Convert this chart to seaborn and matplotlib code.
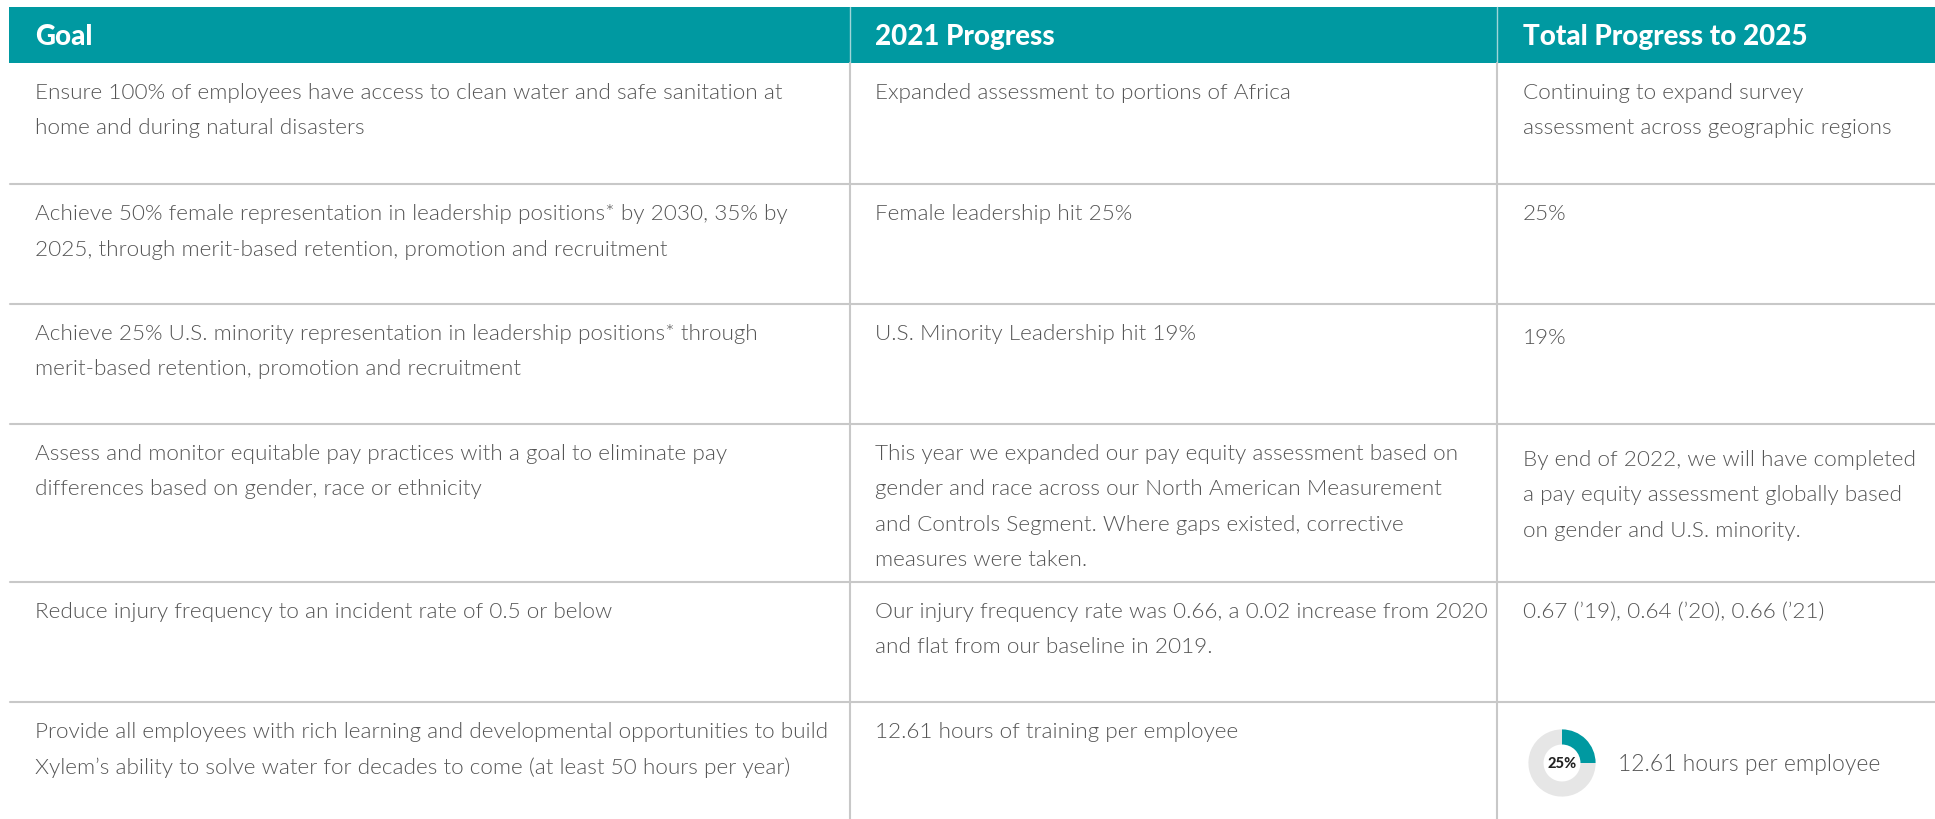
import matplotlib
matplotlib.use("Agg")
import matplotlib.pyplot as plt
import seaborn as sns

# ---------------- data ----------------
headers = ["Goal", "2021 Progress", "Total Progress to 2025"]
goals = [
    "Ensure 100% of employees have access to clean water and safe sanitation at\nhome and during natural disasters",
    "Achieve 50% female representation in leadership positions* by 2030, 35% by\n2025, through merit-based retention, promotion and recruitment",
    "Achieve 25% U.S. minority representation in leadership positions* through\nmerit-based retention, promotion and recruitment",
    "Assess and monitor equitable pay practices with a goal to eliminate pay\ndifferences based on gender, race or ethnicity",
    "Reduce injury frequency to an incident rate of 0.5 or below",
    "Provide all employees with rich learning and developmental opportunities to build\nXylem\u2019s ability to solve water for decades to come (at least 50 hours per year)",
]
progress_2021 = [
    "Expanded assessment to portions of Africa",
    "Female leadership hit 25%",
    "U.S. Minority Leadership hit 19%",
    "This year we expanded our pay equity assessment based on\ngender and race across our North American Measurement\nand Controls Segment. Where gaps existed, corrective\nmeasures were taken.",
    "Our injury frequency rate was 0.66, a 0.02 increase from 2020\nand flat from our baseline in 2019.",
    "12.61 hours of training per employee",
]
total_progress = [
    "Continuing to expand survey\nassessment across geographic regions",
    "25%",
    "19%",
    "By end of 2022, we will have completed\na pay equity assessment globally based\non gender and U.S. minority.",
    "0.67 (\u201919), 0.64 (\u201920), 0.66 (\u201921)",
    "",
]
training_pct = [25, 75]          # donut: achieved vs remaining
training_label = "25%"
training_text = "12.61 hours per employee"

# ---------------- style ----------------
sns.set_theme(style="white")
plt.rcParams["font.family"] = ["Lato", "DejaVu Sans"]

TEAL = "#0099A1"
GRID = "#c8c8c8"
TXT = "#555555"

W, H = 1935, 820
fig = plt.figure(figsize=(W / 100, H / 100), dpi=100)
ax = fig.add_axes([0, 0, 1, 1])
ax.set_xlim(0, W)
ax.set_ylim(H, 0)
ax.axis("off")

# layout (pixels)
left, right = 9, W
head_top, head_bot = 8, 64
col_x = [left, 850, 1497, right]
text_x = [35, 875, 1523]
row_bounds = [head_bot, 185, 305, 425, 583, 703, H]
line_gap = 35.5

# header band
ax.add_patch(plt.Rectangle((left, head_top), right - left, head_bot - head_top,
                           color=TEAL, lw=0, zorder=1))
for i, h in enumerate(headers):
    ax.text(text_x[i], (head_top + head_bot) / 2 + 1, h, color="white",
            fontsize=20, fontweight="black", va="center", ha="left", zorder=3)
for cx in col_x[1:3]:
    ax.plot([cx, cx], [head_top, head_bot], color="#9fd6d9", lw=1.0, zorder=2)
    ax.plot([cx, cx], [head_bot, H], color=GRID, lw=1.5, zorder=2)

# row dividers
for yb in row_bounds[1:-1]:
    ax.plot([left + 1, right], [yb, yb], color=GRID, lw=1.5, zorder=2)

# cell texts
for r in range(len(goals)):
    y0 = row_bounds[r] + 29
    for c, col in enumerate([goals, progress_2021, total_progress]):
        s = col[r]
        if not s:
            continue
        yy = y0
        if c == 2 and r == 2:
            yy += 4
        if c == 2 and r == 3:
            yy += 6
        for k, line in enumerate(s.split("\n")):
            ax.text(text_x[c], yy + k * line_gap, line, color=TXT, fontsize=16.2,
                    fontweight=300, va="center", ha="left", zorder=3)

# donut for training hours
cx, cy, rad = 1562, 764, 42
dax = fig.add_axes([(cx - rad) / W, (H - cy - rad) / H, 2 * rad / W, 2 * rad / H])
dax.pie(training_pct, colors=[TEAL, "#e6e6e6"], startangle=90, counterclock=False,
        wedgeprops=dict(width=0.45, linewidth=0))
dax.set_aspect("equal")
dax.text(0, 0, training_label, ha="center", va="center", fontsize=10.5,
         fontweight="black", color="#222222")
ax.text(1618, cy + 1, training_text, color=TXT, fontsize=16.5, fontweight=300,
        va="center", ha="left", zorder=3)

fig.savefig("out.png", dpi=100)
